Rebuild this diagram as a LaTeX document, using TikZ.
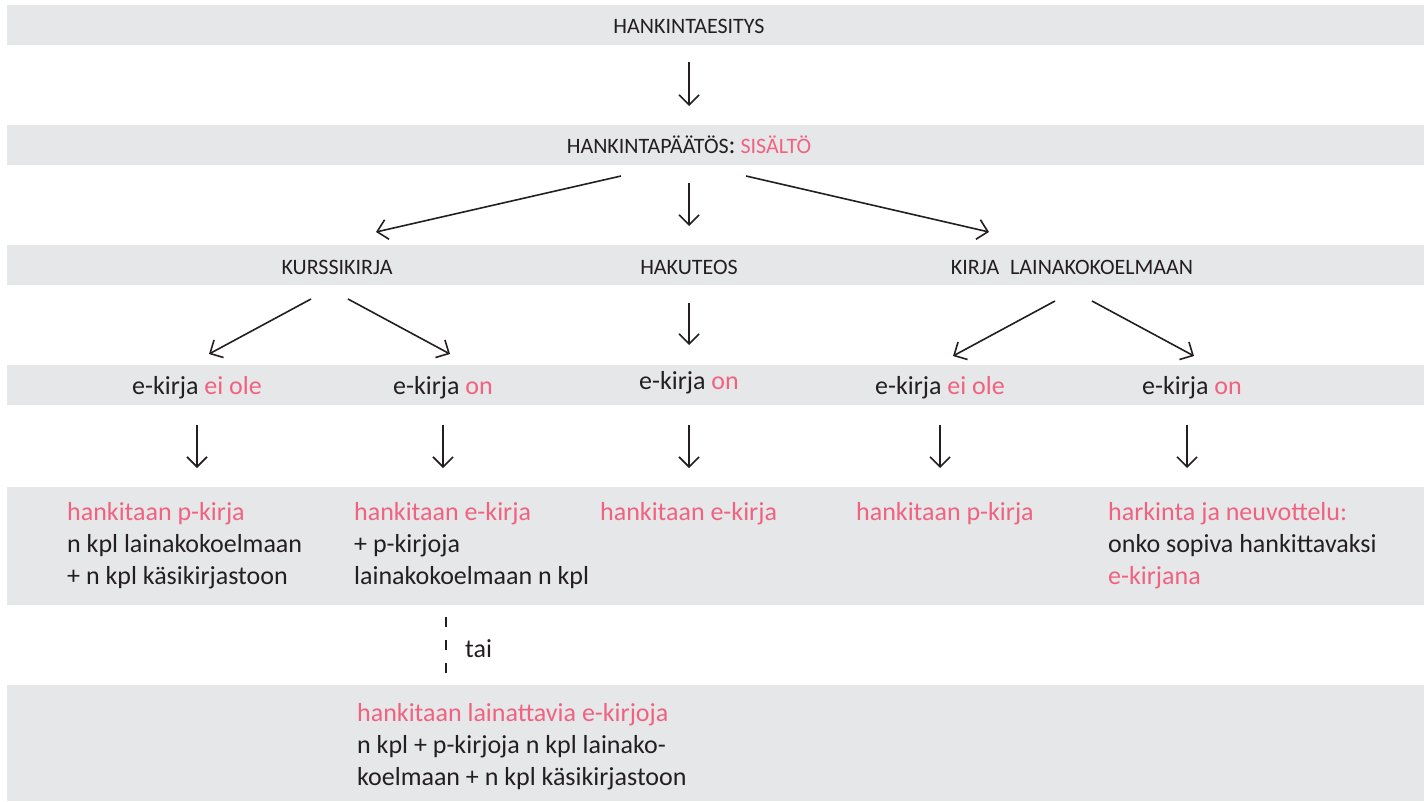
\documentclass[tikz,border=0pt]{standalone}
\usepackage{fontspec}
\setmainfont{Carlito}
\usetikzlibrary{arrows.meta}
\definecolor{bandgray}{RGB}{230,231,233}
\definecolor{pinkc}{RGB}{240,98,128}
\definecolor{inkc}{RGB}{35,31,32}
\newcommand{\pk}[1]{\textcolor{pinkc}{#1}}
\begin{document}
\begin{tikzpicture}[x=1pt,y=-1pt,
  band/.style={fill=bandgray},
  capstxt/.style={inner sep=0pt,anchor=base,text=inkc,font=\fontsize{22}{26}\selectfont},
  bodytxt/.style={inner sep=0pt,anchor=base,text=inkc,font=\fontsize{26}{32}\selectfont},
  boxtxt/.style={inner sep=0pt,anchor=base west,align=left,text=inkc,font=\fontsize{26}{32}\selectfont},
  arr/.style={draw=inkc,line width=1.6pt,-{Straight Barb[length=10pt,width=20pt,line width=1.6pt]}},
  dashline/.style={draw=inkc,line width=1.8pt,dash pattern=on 10pt off 13pt}]
\useasboundingbox (0,0) rectangle (1424,801);
% bands
\fill[band] (7,5) rectangle (1424,45);
\fill[band] (7,125) rectangle (1424,165);
\fill[band] (7,245) rectangle (1424,285);
\fill[band] (7,365) rectangle (1424,405);
\fill[band] (7,487) rectangle (1424,605);
\fill[band] (7,685) rectangle (1424,801);
% texts (multi-line nodes: base anchor = baseline of last line)
\node[capstxt] (esitys) at (689,33) {HANKINTAESITYS};
\node[capstxt] (paatos) at (689,153) {HANKINTAPÄÄTÖS{\fontsize{26}{30}\selectfont:} \pk{SISÄLTÖ}};
\node[capstxt] (kurssi) at (337,274) {KURSSIKIRJA};
\node[capstxt] (haku) at (689,274) {HAKUTEOS};
\node[capstxt] (laina) at (1072,274) {KIRJA\hspace{0.5em}LAINAKOKOELMAAN};
\node[bodytxt] (k1) at (197,394) {e-kirja \pk{ei ole}};
\node[bodytxt] (k2) at (443,394) {e-kirja \pk{on}};
\node[bodytxt] (h1) at (689,389) {e-kirja \pk{on}};
\node[bodytxt] (l1) at (940,394) {e-kirja \pk{ei ole}};
\node[bodytxt] (l2) at (1192,394) {e-kirja \pk{on}};
\node[boxtxt] (r1) at (67,584) {\pk{hankitaan p-kirja}\\n kpl lainakokoelmaan\\+ n kpl käsikirjastoon};
\node[boxtxt] (r2) at (354,584) {\pk{hankitaan e-kirja}\\+ p-kirjoja\\lainakokoelmaan n kpl};
\node[boxtxt] (r3) at (600,520) {\pk{hankitaan e-kirja}};
\node[boxtxt] (r4) at (856,520) {\pk{hankitaan p-kirja}};
\node[boxtxt] (r5) at (1108,584) {\pk{harkinta ja neuvottelu:}\\onko sopiva hankittavaksi\\\pk{e-kirjana}};
\node[boxtxt] (tai) at (465,657) {tai};
\node[boxtxt] (r6) at (357,785) {\pk{hankitaan lainattavia e-kirjoja}\\n kpl + p-kirjoja n kpl lainako-\\koelmaan + n kpl käsikirjastoon};
% connector end points
\coordinate (a1s) at (689,62);   \coordinate (a1e) at (689,106);
\coordinate (a2ls) at (621,176); \coordinate (a2le) at (376,232);
\coordinate (a2ms) at (689,183); \coordinate (a2me) at (689,226);
\coordinate (a2rs) at (746,176); \coordinate (a2re) at (989,232);
\coordinate (b1s) at (311,299);  \coordinate (b1e) at (209,354);
\coordinate (b2s) at (348,299);  \coordinate (b2e) at (450,354);
\coordinate (b3s) at (689,303);  \coordinate (b3e) at (689,345);
\coordinate (b4s) at (1055,301); \coordinate (b4e) at (953,356);
\coordinate (b5s) at (1092,301); \coordinate (b5e) at (1194,356);
\coordinate (c1s) at (197,425);  \coordinate (c1e) at (197,468);
\coordinate (c2s) at (443,425);  \coordinate (c2e) at (443,468);
\coordinate (c3s) at (689,425);  \coordinate (c3e) at (689,468);
\coordinate (c4s) at (940,425);  \coordinate (c4e) at (940,468);
\coordinate (c5s) at (1187,425); \coordinate (c5e) at (1187,468);
\coordinate (ds) at (446,617);   \coordinate (de) at (446,676);
% connectors
\draw[arr] (a1s) -- (a1e);
\draw[arr] (a2ls) -- (a2le);
\draw[arr] (a2ms) -- (a2me);
\draw[arr] (a2rs) -- (a2re);
\draw[arr] (b1s) -- (b1e);
\draw[arr] (b2s) -- (b2e);
\draw[arr] (b3s) -- (b3e);
\draw[arr] (b4s) -- (b4e);
\draw[arr] (b5s) -- (b5e);
\draw[arr] (c1s) -- (c1e);
\draw[arr] (c2s) -- (c2e);
\draw[arr] (c3s) -- (c3e);
\draw[arr] (c4s) -- (c4e);
\draw[arr] (c5s) -- (c5e);
\draw[dashline] (ds) -- (de);
\end{tikzpicture}
\end{document}
